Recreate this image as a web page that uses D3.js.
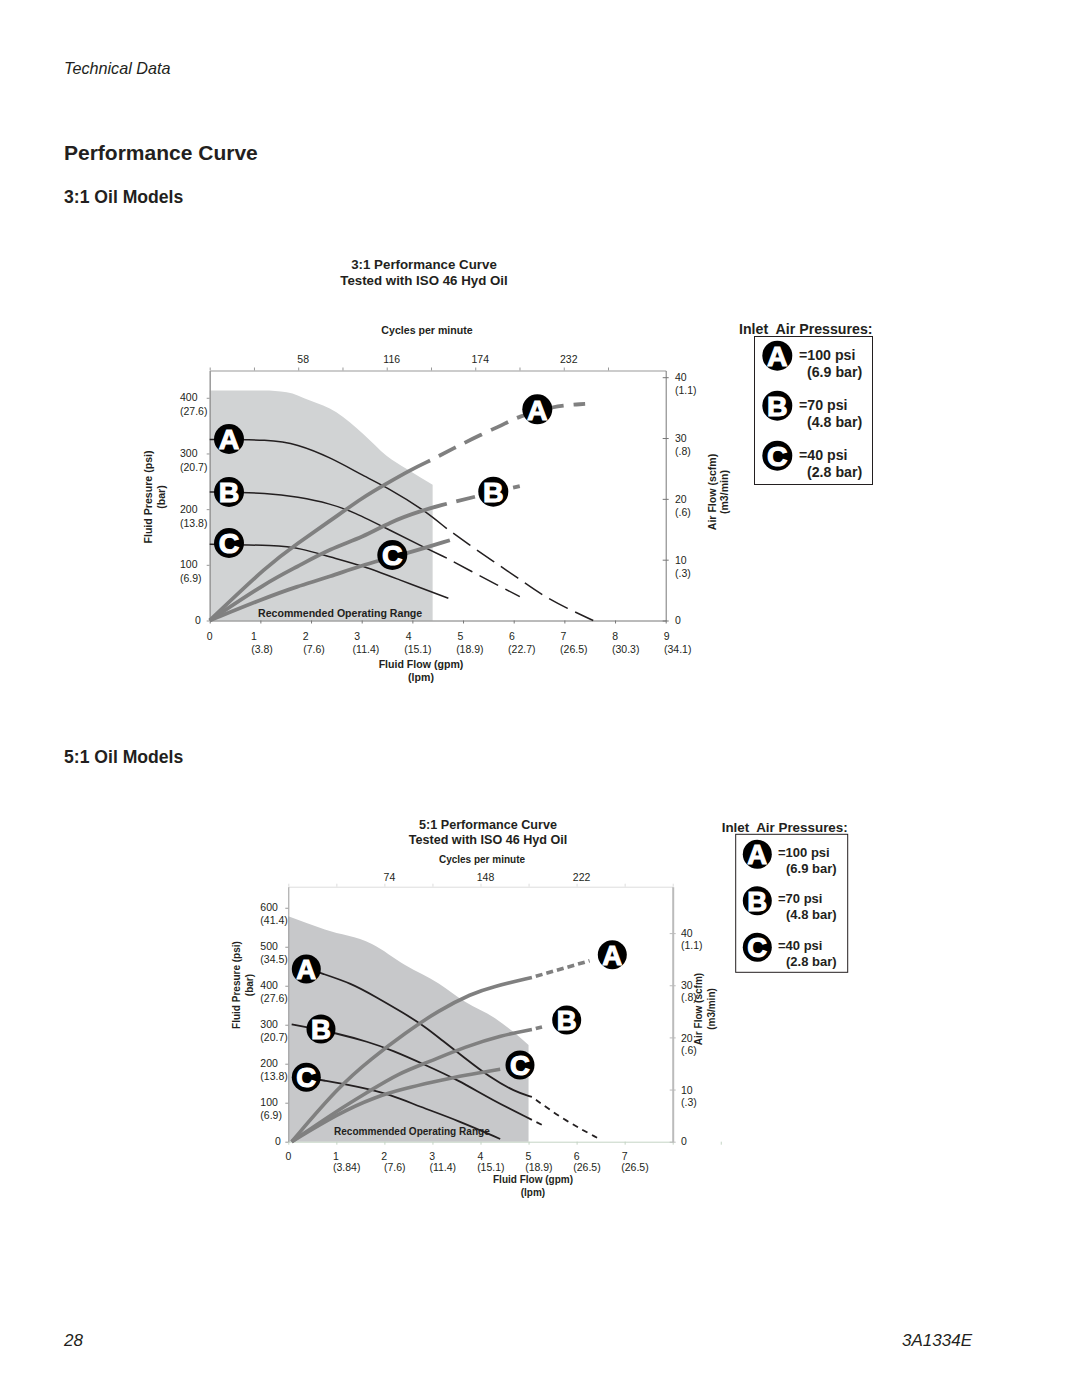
<!DOCTYPE html>
<html>
<head>
<meta charset="utf-8">
<script src="https://cdn.jsdelivr.net/npm/d3@7"></script>
<style>
  html, body { margin: 0; padding: 0; background: #fff; }
  svg { display: block; }
  text { font-family: "Liberation Sans", Arial, sans-serif; fill: #231f20; }
</style>
</head>
<body>
<div id="chart"></div>
<script>
// ---- data: [flow gpm, value] ----

// 3:1 oil models
const tickPsi31 = [100, 200, 300, 400];
const tickBar31 = ['(6.9)', '(13.8)', '(20.7)', '(27.6)'];
const tickScfm31 = [10, 20, 30, 40];
const tickM331 = ['(.3)', '(.6)', '(.8)', '(1.1)'];
const tickGpm31 = [1, 2, 3, 4, 5, 6, 7, 8, 9];
const tickLpm31 = ['(3.8)', '(7.6)', '(11.4)', '(15.1)', '(18.9)', '(22.7)', '(26.5)', '(30.3)', '(34.1)'];
const tickCycles31 = [58, 116, 174, 232];

const range31 = [[0, 413], [1.06, 413], [1.52, 410], [1.98, 395], [2.5, 374], [3.03, 335], [3.49, 296], [3.89, 272], [4.4, 244]];

const fluidA31 = [[0, 325], [1.19, 325], [1.72, 317], [2.38, 293], [3.03, 260], [3.56, 236], [4.22, 199], [4.68, 165]];
const fluidA31Dash = [[4.68, 165], [5.14, 135], [5.6, 106], [6.09, 76], [6.55, 46], [7.05, 22], [7.57, 0]];
const fluidB31 = [[0, 231], [1.19, 229], [1.72, 222], [2.38, 210], [2.84, 195], [3.56, 162], [4.22, 132], [4.68, 112]];
const fluidB31Dash = [[4.68, 112], [5.17, 88], [5.67, 64], [6.12, 43]];
const fluidC31 = [[0, 137], [1.32, 135], [1.78, 130], [2.38, 114], [3.03, 98], [3.69, 75], [4.71, 40]];

const airA31 = [[0, 0], [1.16, 9.2], [1.72, 12.6], [2.38, 16.4], [3.03, 20.3], [3.49, 22.5], [3.95, 24.7], [4.35, 26.3]];
const airA31Dash = [[4.35, 26.3], [4.81, 28.3], [5.34, 30.5], [5.89, 32.6], [6.03, 33.3], [6.78, 35.3], [7.41, 35.6]];
const airB31 = [[0, 0], [1.13, 6.3], [1.72, 8.8], [2.38, 11.8], [3.03, 13.7], [3.56, 16.2], [4.15, 18], [4.68, 19.2]];
const airB31Dash = [[4.68, 19.2], [5.6, 21.1], [6.12, 22.1]];
const airC31 = [[0, 0], [1.06, 3.6], [1.72, 5.6], [2.38, 7.2], [3.03, 9.2], [3.89, 11], [4.74, 13.2]];

// 5:1 oil models
const tickPsi51 = [100, 200, 300, 400, 500, 600];
const tickBar51 = ['(6.9)', '(13.8)', '(20.7)', '(27.6)', '(34.5)', '(41.4)'];
const tickScfm51 = [10, 20, 30, 40];
const tickM351 = ['(.3)', '(.6)', '(.8)', '(1.1)'];
const tickGpm51 = [1, 2, 3, 4, 5, 6, 7];
const tickLpm51 = ['(3.84)', '(7.6)', '(11.4)', '(15.1)', '(18.9)', '(26.5)', '(26.5)'];
const tickCycles51 = [74, 148, 222];

const range51 = [[0, 578], [0.76, 544], [1.74, 507], [2.43, 453], [3.13, 406], [3.68, 359], [4.31, 316], [4.72, 278], [5, 248]];

const fluidA51 = [[0.38, 445], [0.66, 433], [1.32, 406], [1.81, 372], [2.36, 333], [2.85, 295], [3.19, 261], [3.68, 214], [4.17, 167], [4.72, 128], [5.07, 115]];
const fluidA51Dash = [[5.07, 115], [5.73, 56], [6.49, 6]];
const fluidB51 = [[0.07, 301], [0.42, 293], [0.97, 279], [1.67, 256], [2.15, 235], [2.85, 197], [3.54, 158], [4.24, 107], [5.07, 56]];
const fluidB51Dash = [[5.07, 56], [5.28, 43]];
const fluidC51 = [[0.38, 165], [0.69, 158], [1.46, 141], [2.15, 120], [2.71, 91], [3.54, 54], [4.41, 7]];

const airA51 = [[0.07, 0], [1.04, 10.5], [1.74, 16], [2.43, 20.8], [3.13, 25.2], [3.82, 28.4], [4.24, 29.7], [5.07, 31.5]];
const airA51Dash = [[5.07, 31.5], [6.27, 34.7]];
const airB51 = [[0.07, 0], [1.04, 6.1], [1.67, 9.6], [2.29, 13.1], [2.92, 15.3], [3.68, 18.2], [4.44, 20.4], [5.07, 21.5]];
const airB51Dash = [[5.07, 21.5], [5.28, 22]];
const airC51 = [[0.07, 0], [1.04, 5.4], [1.81, 8.6], [2.43, 10.2], [2.99, 11.4], [3.68, 12.8], [4.41, 13.9]];

const legendLines = [['A', '=100 psi', '(6.9 bar)'], ['B', '=70 psi', '(4.8 bar)'], ['C', '=40 psi', '(2.8 bar)']];

const svg = d3.select('#chart').append('svg')
    .attr('width', 1080)
    .attr('height', 1397);

const label = (g, x, y, str, size, opts = {}) => g.append('text')
    .attr('x', x)
    .attr('y', y)
    .attr('font-size', size)
    .attr('font-weight', opts.bold ? 'bold' : null)
    .attr('font-style', opts.italic ? 'italic' : null)
    .attr('text-anchor', opts.anchor || 'start')
    .attr('dy', opts.dy || null)
    .attr('transform', opts.rotate ? `rotate(-90, ${x}, ${y})` : null)
    .text(str);

const badge = (g, x, y, r, letter) => {
    g.append('circle').attr('cx', x).attr('cy', y).attr('r', r).attr('fill', '#000');
    g.append('text')
        .attr('x', x)
        .attr('y', y)
        .attr('dy', '.36em')
        .attr('text-anchor', 'middle')
        .attr('font-size', r * 1.9)
        .attr('font-weight', 'bold')
        .attr('stroke', '#fff')
        .attr('stroke-width', 1.1)
        .style('fill', '#fff')
        .text(letter);
};

function drawChart(c) {
    const g = svg.append('g');

    const x = d3.scaleLinear().domain([0, c.maxGpm]).range([c.left, c.right]);
    const yL = d3.scaleLinear().domain([0, c.maxPsi]).range([c.bottom, c.top]);
    const yR = d3.scaleLinear().domain([0, c.maxScfm]).range([c.bottom, c.top]);
    const xTop = d3.scaleLinear().domain([0, c.maxCycles]).range([c.left, c.right]);

    // bottom labels are laid out a bit off the ticks
    const xNum = d3.scaleLinear().domain([1, c.gpm.length]).range(c.numRange);
    const xPar = d3.scaleLinear().domain([1, c.gpm.length]).range(c.parRange);

    // recommended range
    const rangeArea = d3.area()
        .x(d => x(d[0]))
        .y0(c.bottom)
        .y1(d => yL(d[1]))
        .curve(d3.curveMonotoneX);
    g.append('path').datum(c.range).attr('d', rangeArea).attr('fill', c.rangeFill);

    label(g, c.rangeLabel[0], c.rangeLabel[1], 'Recommended Operating Range', c.rangeSize, { bold: true });

    // axes
    const styleAxis = (a, color, width) => {
        a.selectAll('path').attr('stroke', color).attr('stroke-width', width);
        a.selectAll('line').attr('stroke', color);
        a.selectAll('.tick text').remove();
    };
    styleAxis(g.append('g').attr('transform', `translate(0,${c.top})`)
        .call(d3.axisTop(xTop).tickValues(d3.range(0, c.cycleEnd + 1, c.cycleStep)).tickSize(3).tickSizeOuter(0)), c.topColor, 1);
    styleAxis(g.append('g').attr('transform', `translate(0,${c.bottom})`)
        .call(d3.axisBottom(x).tickValues(d3.range(0, 10)).tickSize(3).tickSizeOuter(0)), c.bottomColor, 1);
    styleAxis(g.append('g').attr('transform', `translate(${c.left},0)`)
        .call(d3.axisLeft(yL).tickValues([0].concat(c.psi)).tickSize(3).tickSizeOuter(0)), c.leftColor, c.leftWidth);
    const rightAxis = g.append('g').attr('transform', `translate(${c.right},0)`)
        .call(d3.axisRight(yR).tickValues([0].concat(c.scfm)).tickSize(3).tickSizeOuter(0));
    styleAxis(rightAxis, c.rightColor, c.rightWidth);
    rightAxis.selectAll('.tick line').attr('x1', -3);

    // fluid pressure curves, air curves go over them
    const fluidLine = d3.line().x(d => x(d[0])).y(d => yL(d[1])).curve(d3.curveBasis);
    c.fluid.forEach(d => g.append('path').datum(d).attr('d', fluidLine)
        .attr('fill', 'none').attr('stroke', '#231f20').attr('stroke-width', c.fluidWidth));
    c.fluidDash.forEach(d => g.append('path').datum(d).attr('d', fluidLine)
        .attr('fill', 'none').attr('stroke', '#231f20').attr('stroke-width', c.fluidWidth)
        .attr('stroke-dasharray', c.fluidDashes.join(','))
        .attr('stroke-dashoffset', c.fluidDashes[0]));

    const airLine = d3.line().x(d => x(d[0])).y(d => yR(d[1])).curve(d3.curveBasis);
    c.air.forEach(d => g.append('path').datum(d).attr('d', airLine)
        .attr('fill', 'none').attr('stroke', '#808080').attr('stroke-width', c.airWidth));
    c.airDash.forEach(d => g.append('path').datum(d).attr('d', airLine)
        .attr('fill', 'none').attr('stroke', '#808080').attr('stroke-width', c.airWidth)
        .attr('stroke-dasharray', c.airDashes.join(','))
        .attr('stroke-dashoffset', c.airDashes[0]));

    // tick labels
    const fs = 10.5;
    c.cycles.forEach(v => label(g, xTop(v) + 5, c.cycleY, v, fs, { anchor: 'middle' }));
    label(g, x(0), c.numY, 0, fs, { anchor: 'middle' });
    c.gpm.forEach((v, i) => {
        label(g, xNum(v), c.numY, v, fs, { anchor: 'middle' });
        label(g, xPar(v), c.parY, c.lpm[i], fs, { anchor: 'middle' });
    });
    label(g, c.zeroX, c.bottom, 0, fs, { dy: '.35em' });
    c.psi.forEach((v, i) => {
        label(g, c.leftLabelX, yL(v), v, fs, { dy: '.35em' });
        label(g, c.leftLabelX, yL(v) + c.leftGap, c.bar[i], fs, { dy: '.35em' });
    });
    label(g, c.rightLabelX, c.bottom, 0, fs, { dy: '.35em' });
    c.scfm.forEach((v, i) => {
        label(g, c.rightLabelX, yR(v) + c.rightShift, v, fs, { dy: '.35em' });
        label(g, c.rightLabelX, yR(v) + c.rightShift + c.rightGap, c.m3[i], fs, { dy: '.35em' });
    });

    // titles
    const rot = { bold: true, anchor: 'middle', rotate: true, dy: '.35em' };
    label(g, c.titleX, c.titleY, c.title, c.titleSize, { bold: true, anchor: 'middle' });
    label(g, c.titleX, c.titleY + c.titleGap, 'Tested with ISO 46 Hyd Oil', c.titleSize, { bold: true, anchor: 'middle' });
    label(g, c.cycleTitle[0], c.cycleTitle[1], 'Cycles per minute', c.smallTitle, { bold: true, anchor: 'middle' });
    label(g, c.flowTitle[0], c.flowTitle[1], 'Fluid Flow (gpm)', c.smallTitle, { bold: true, anchor: 'middle' });
    label(g, c.flowTitle[0], c.flowTitle[1] + 13, '(lpm)', c.smallTitle, { bold: true, anchor: 'middle' });
    label(g, c.psiTitle[0], c.psiTitle[2], 'Fluid Presure (psi)', c.smallTitle, rot);
    label(g, c.psiTitle[1], c.psiTitle[2], '(bar)', c.smallTitle, rot);
    label(g, c.airTitle[0], c.airTitle[2], 'Air Flow (scfm)', c.smallTitle, rot);
    label(g, c.airTitle[1], c.airTitle[2], '(m3/min)', c.smallTitle, rot);

    c.badges.forEach(b => badge(g, b[0], b[1], c.badgeR, b[2]));

    // legend
    const lg = c.legend;
    label(g, lg.titleX, lg.titleY, 'Inlet  Air Pressures:', lg.titleSize, { bold: true }).style('white-space', 'pre');
    g.append('rect')
        .attr('x', lg.x).attr('y', lg.y)
        .attr('width', lg.w).attr('height', lg.h)
        .attr('fill', 'none').attr('stroke', '#231f20');
    legendLines.forEach((d, i) => {
        const cy = lg.firstY + i * lg.stepY;
        badge(g, lg.cx, cy, c.badgeR, d[0]);
        label(g, lg.textX, cy + lg.firstGap, d[1], lg.size, { bold: true });
        label(g, lg.textX + 8, cy + lg.lineGap, d[2], lg.size, { bold: true });
    });
}

// page text
label(svg, 64, 74, 'Technical Data', 16.2, { italic: true });
label(svg, 64, 160, 'Performance Curve', 21, { bold: true });
label(svg, 64, 203, '3:1 Oil Models', 17.6, { bold: true });
label(svg, 64, 763, '5:1 Oil Models', 17.6, { bold: true });
label(svg, 64, 1346, '28', 17, { italic: true });
label(svg, 972, 1346, '3A1334E', 17, { italic: true, anchor: 'end' });

drawChart({
    left: 209.7, right: 665.7, top: 370.5, bottom: 620.5,
    maxGpm: 9, maxPsi: 449, maxScfm: 41.1, maxCycles: 298.8, cycleStep: 29, cycleEnd: 261,
    gpm: tickGpm31, lpm: tickLpm31, psi: tickPsi31, bar: tickBar31, scfm: tickScfm31, m3: tickM331, cycles: tickCycles31,
    range: range31, rangeFill: '#d1d3d4', rangeLabel: [258, 617], rangeSize: 10.6,
    fluid: [fluidA31, fluidB31, fluidC31], fluidDash: [fluidA31Dash, fluidB31Dash], fluidWidth: 1.5, fluidDashes: [21, 8],
    air: [airA31, airB31, airC31], airDash: [airA31Dash, airB31Dash], airWidth: 3.8, airDashes: [19, 10],
    topColor: '#999', bottomColor: '#777', leftColor: '#999', leftWidth: 1.5, rightColor: '#777', rightWidth: 1,
    numRange: [254, 666.7], parRange: [262, 677.7], numY: 640, parY: 653, cycleY: 363,
    zeroX: 195, leftLabelX: 180, leftGap: 14, rightLabelX: 675, rightShift: 0.5, rightGap: 13,
    title: '3:1 Performance Curve', titleX: 424, titleY: 269, titleGap: 15.5, titleSize: 13.3, smallTitle: 10.6,
    cycleTitle: [427, 334], flowTitle: [421, 668], psiTitle: [148, 161, 497], airTitle: [712, 724, 492],
    badgeR: 15,
    badges: [[229, 439, 'A'], [229, 492, 'B'], [229, 543, 'C'], [392.3, 555, 'C'], [537.3, 409.3, 'A'], [493.3, 491.7, 'B']],
    legend: { titleX: 739, titleY: 334, titleSize: 14.2, x: 754.5, y: 336.5, w: 118, h: 148, cx: 777.3, firstY: 355.7, stepY: 50, textX: 799, firstGap: 4.5, lineGap: 21, size: 14.2 }
});

drawChart({
    left: 288.3, right: 672.7, top: 886.7, bottom: 1141.7,
    maxGpm: 8, maxPsi: 654, maxScfm: 48.9, maxCycles: 296, cycleStep: 37, cycleEnd: 296,
    gpm: tickGpm51, lpm: tickLpm51, psi: tickPsi51, bar: tickBar51, scfm: tickScfm51, m3: tickM351, cycles: tickCycles51,
    range: range51, rangeFill: '#c7c8ca', rangeLabel: [334, 1135], rangeSize: 10.05,
    fluid: [fluidA51, fluidB51, fluidC51], fluidDash: [fluidA51Dash, fluidB51Dash], fluidWidth: 1.8, fluidDashes: [6, 5],
    air: [airA51, airB51, airC51], airDash: [airA51Dash, airB51Dash], airWidth: 3.6, airDashes: [7, 4],
    topColor: '#ddd', bottomColor: '#c4d4c4', leftColor: '#999', leftWidth: 1, rightColor: '#bbb', rightWidth: 2,
    numRange: [336, 624.7], parRange: [346.7, 635], numY: 1160, parY: 1171, cycleY: 881,
    zeroX: 275, leftLabelX: 260.3, leftGap: 12.5, rightLabelX: 681, rightShift: 0.5, rightGap: 12,
    title: '5:1 Performance Curve', titleX: 488, titleY: 829, titleGap: 15, titleSize: 12.6, smallTitle: 10,
    cycleTitle: [482, 863], flowTitle: [533, 1183], psiTitle: [236, 249, 985], airTitle: [698.5, 711.5, 1009],
    badgeR: 14.5,
    badges: [[306.3, 969, 'A'], [321, 1029, 'B'], [306.3, 1077.3, 'C'], [612.3, 954.7, 'A'], [566.7, 1020, 'B'], [520, 1065, 'C']],
    legend: { titleX: 721.7, titleY: 832, titleSize: 13.4, x: 735.7, y: 834.3, w: 112, h: 138, cx: 757.3, firstY: 854.3, stepY: 46.5, textX: 778, firstGap: 2.5, lineGap: 18.5, size: 13 }
});
</script>
</body>
</html>
